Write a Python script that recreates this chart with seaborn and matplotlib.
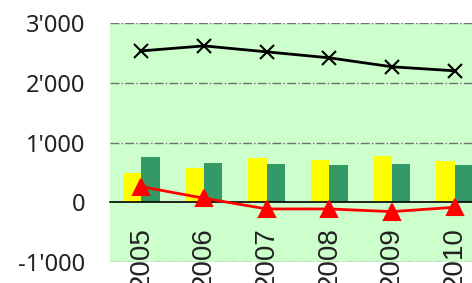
import matplotlib
matplotlib.use("Agg")
import matplotlib.pyplot as plt
import pandas as pd
import seaborn as sns

sns.set_theme(style="white")

# values
years = ["2005", "2006", "2007", "2008", "2009", "2010"]
yellow_vals = [485, 578, 746, 707, 779, 690]
green_vals = [763, 652, 640, 624, 635, 624]
black_vals = [2533, 2617, 2517, 2417, 2267, 2200]
red_vals = [261, 67, -112, -112, -157, -84]
yticks = [-1000, 0, 1000, 2000, 3000]
ytick_labels = ["-1'000", "0", "1'000", "2'000", "3'000"]

bars = pd.DataFrame({
    "year": years * 2,
    "value": yellow_vals + green_vals,
    "series": ["A"] * len(years) + ["B"] * len(years),
})
lines = pd.DataFrame({"year": years, "black": black_vals, "red": red_vals})

fig = plt.figure(figsize=(4.72, 2.83), dpi=100)
ax = fig.add_axes([110 / 472, 1 - 262 / 283, 376 / 472, 239 / 283])
ax.set_facecolor("#CCFFCC")

sns.barplot(data=bars, x="year", y="value", hue="series", order=years,
            palette=["#FFFF00", "#339966"], width=0.58, saturation=1,
            linewidth=0, legend=False, ax=ax)
sns.pointplot(data=lines, x="year", y="black", order=years, color="black",
              markers="x", markersize=10, linewidth=2, ax=ax)
sns.pointplot(data=lines, x="year", y="red", order=years, color="#FF0000",
              markers="^", markersize=11, linewidth=2, ax=ax)

ax.set_xlim(-0.5, 5.5)
ax.set_ylim(-1000, 3000)
ax.set_xlabel("")
ax.set_ylabel("")

# gridlines
for y in [-1000, 1000, 2000, 3000]:
    ax.axhline(y, color="#707070", lw=1, ls="-.", zorder=0.5)

for s in ["top", "right", "left"]:
    ax.spines[s].set_visible(False)
ax.spines["bottom"].set_position(("data", 0))
ax.spines["bottom"].set_color("black")
ax.spines["bottom"].set_linewidth(1.2)
ax.spines["bottom"].set_zorder(1)

ax.set_yticks(yticks)
ax.set_yticklabels(ytick_labels, fontsize=17, family="Noto Sans", color="#222222")
ax.tick_params(axis="y", length=0, pad=18)

ax.set_xticks(range(len(years)))
ax.set_xticklabels(years, rotation=90, fontsize=20, family="Liberation Sans",
                   color="#222222")
ax.tick_params(axis="x", which="major", length=0, pad=18)
ax.set_xticks([i + 0.5 for i in range(-1, len(years))], minor=True)
ax.tick_params(axis="x", which="minor", direction="inout", length=12,
               width=1, color="#808080")

fig.savefig("out.png", dpi=100)
